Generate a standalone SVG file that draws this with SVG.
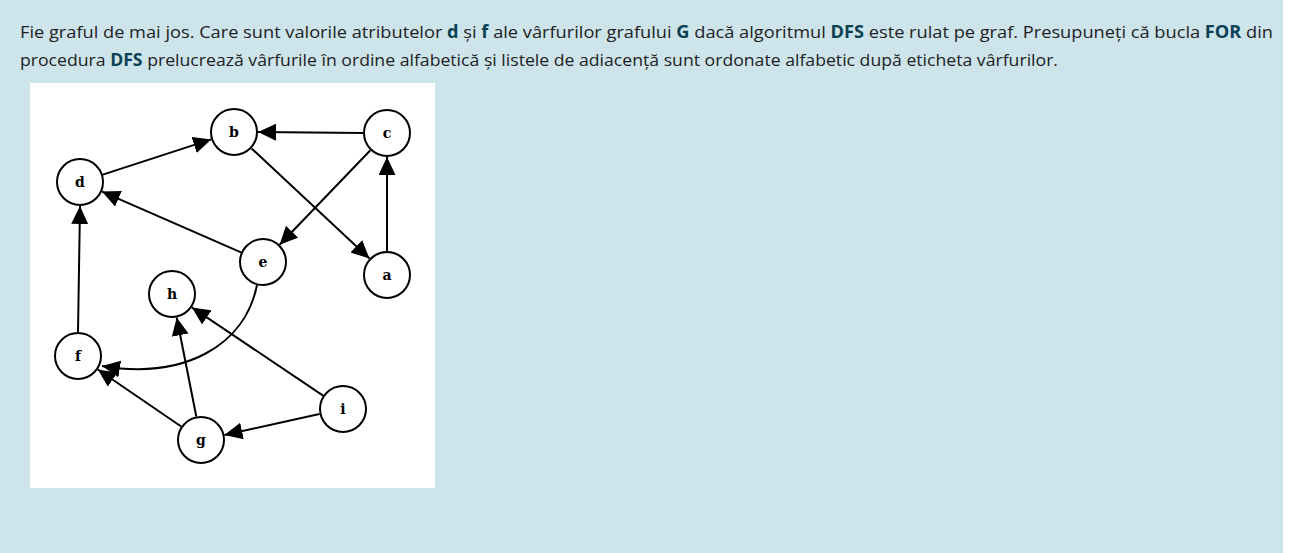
<svg xmlns="http://www.w3.org/2000/svg" width="1296" height="553" viewBox="0 0 1296 553">
<defs>
<style>
.q{font-family:"Open Sans","Liberation Sans",sans-serif;font-size:17px;fill:#1d2125}
.b{font-weight:bold;fill:#0b4154}
.n circle{fill:#fff;stroke:#000;stroke-width:2}
.n text{font-family:"DejaVu Serif","Liberation Serif",serif;font-weight:bold;font-size:14px;fill:#000;text-anchor:middle}
.e{stroke:#000;stroke-width:2;fill:none;marker-end:url(#ah)}
</style>
<marker id="ah" markerUnits="userSpaceOnUse" markerWidth="19" markerHeight="17" refX="18" refY="8.5" orient="auto">
<path d="M0,0 L18,8.5 L0,17 Z" fill="#000"/>
</marker>
</defs>
<rect x="0" y="0" width="1296" height="553" fill="#fff"/>
<rect x="0" y="0" width="1283" height="553" fill="#cde5ea"/>
<text class="q" x="20" y="38" textLength="1253" lengthAdjust="spacingAndGlyphs">Fie graful de mai jos. Care sunt valorile atributelor <tspan class="b">d</tspan> și <tspan class="b">f</tspan> ale vârfurilor grafului <tspan class="b">G</tspan> dacă algoritmul <tspan class="b">DFS</tspan> este rulat pe graf. Presupuneți că bucla <tspan class="b">FOR</tspan> din</text>
<text class="q" x="20" y="66" textLength="1038" lengthAdjust="spacingAndGlyphs">procedura <tspan class="b">DFS</tspan> prelucrează vârfurile în ordine alfabetică și listele de adiacență sunt ordonate alfabetic după eticheta vârfurilor.</text>
<rect x="30" y="83" width="405" height="405" fill="#fff"/>
<g id="edges">
<line class="e" x1="102.8" y1="174.6" x2="211.2" y2="139.4"/>
<line class="e" x1="363" y1="133" x2="258" y2="132"/>
<line class="e" x1="251.5" y1="148.4" x2="369.5" y2="258.6"/>
<line class="e" x1="370.4" y1="150.3" x2="279.6" y2="244.7"/>
<line class="e" x1="387" y1="251" x2="387" y2="157"/>
<line class="e" x1="241" y1="252.4" x2="102" y2="191.6"/>
<line class="e" x1="78" y1="332" x2="80" y2="206"/>
<path class="e" d="M257,285 C245,345 185,380 102,366"/>
<line class="e" x1="323.1" y1="395.6" x2="191.9" y2="307.4"/>
<line class="e" x1="319.5" y1="414.1" x2="224.4" y2="434.9"/>
<line class="e" x1="196.3" y1="416.5" x2="176.7" y2="317.5"/>
<line class="e" x1="181.2" y1="426.5" x2="97.8" y2="369.5"/>
</g>
<g id="node-a" class="n"><circle cx="387" cy="275" r="23"/><text x="387" y="280">a</text></g>
<g id="node-b" class="n"><circle cx="234" cy="132" r="23"/><text x="234" y="137">b</text></g>
<g id="node-c" class="n"><circle cx="387" cy="133" r="23"/><text x="387" y="138">c</text></g>
<g id="node-d" class="n"><circle cx="80" cy="182" r="23"/><text x="80" y="187">d</text></g>
<g id="node-e" class="n"><circle cx="263" cy="262" r="23"/><text x="263" y="267">e</text></g>
<g id="node-f" class="n"><circle cx="78" cy="356" r="23"/><text x="78" y="361">f</text></g>
<g id="node-g" class="n"><circle cx="201" cy="440" r="23"/><text x="201" y="445">g</text></g>
<g id="node-h" class="n"><circle cx="172" cy="294" r="23"/><text x="172" y="299">h</text></g>
<g id="node-i" class="n"><circle cx="343" cy="409" r="23"/><text x="343" y="414">i</text></g>
</svg>
